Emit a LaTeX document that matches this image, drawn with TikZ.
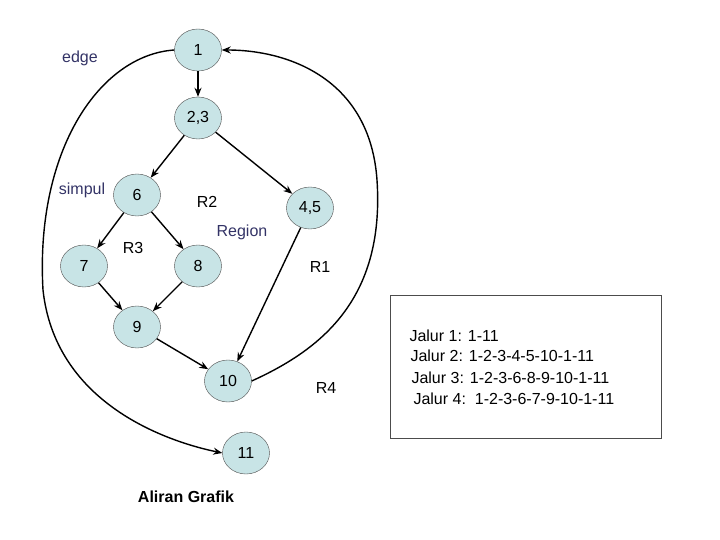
\documentclass[tikz,border=0pt]{standalone}
\usepackage{fontspec}
\setmainfont{Liberation Sans}
\usetikzlibrary{arrows.meta,shapes.geometric}
\definecolor{nodefill}{HTML}{C8E4E6}
\definecolor{lbl}{HTML}{333366}
\begin{document}
\begin{tikzpicture}[x=1pt,y=-1pt,
  v/.style={ellipse,draw=black!70,thin,fill=nodefill,minimum width=47pt,minimum height=42pt,inner sep=0pt,font=\fontsize{16}{18}\selectfont},
  e/.style={-{Stealth[length=9pt,width=7pt]},line width=1.4pt},
  lb/.style={font=\fontsize{16}{18}\selectfont},
  bl/.style={font=\fontsize{16}{18}\selectfont,text=lbl}]
\useasboundingbox (0,0) rectangle (720,540);
\node[v] (n1) at (198,50) {1};
\node[v] (n23) at (198,118) {2,3};
\node[v] (n6) at (137,195) {6};
\node[v] (n45) at (310,208) {4,5};
\node[v] (n7) at (84,266) {7};
\node[v] (n8) at (198,266) {8};
\node[v] (n9) at (137,327) {9};
\node[v] (n10) at (228,381) {10};
\node[v] (n11) at (246,453) {11};
\draw[e] (n1) -- (n23);
\draw[e] (n23) -- (n6);
\draw[e] (n23) -- (n45);
\draw[e] (n6) -- (n7);
\draw[e] (n6) -- (n8);
\draw[e] (n7) -- (n9);
\draw[e] (n8) -- (n9);
\draw[e] (n9) -- (n10);
\draw[e] (n45) -- (n10);
\draw[e] (n1.west) .. controls (100,55) and (35,150) .. (43,290) .. controls (55,400) and (160,440) .. (n11.west);
\draw[e] (n10.east) .. controls (320,350) and (385,300) .. (377,180) .. controls (370,80) and (290,50) .. (n1.east);
\node[bl] (t1) at (80,58) {edge};
\node[bl] (t2) at (82,190) {simpul};
\node[bl] (t3) at (242,232) {Region};
\node[lb] (r2) at (207,202) {R2};
\node[lb] (r3) at (133,248) {R3};
\node[lb] (r1) at (320,267) {R1};
\node[lb] (r4) at (326,388) {R4};
\node[lb,font=\fontsize{16}{18}\selectfont\bfseries] (title) at (186,497) {Aliran Grafik};
\node[draw=black!70,thin,minimum width=271pt,minimum height=143pt] (box) at (525.5,366.5) {};
\node[lb,anchor=west] (j1) at (406,336) {Jalur 1: 1-11};
\node[lb,anchor=west] (j2) at (407,356) {Jalur 2: 1-2-3-4-5-10-1-11};
\node[lb,anchor=west] (j3) at (408,378) {Jalur 3: 1-2-3-6-8-9-10-1-11};
\node[lb,anchor=west] (j4) at (410,399) {Jalur 4:\ \ 1-2-3-6-7-9-10-1-11};
\end{tikzpicture}
\end{document}
